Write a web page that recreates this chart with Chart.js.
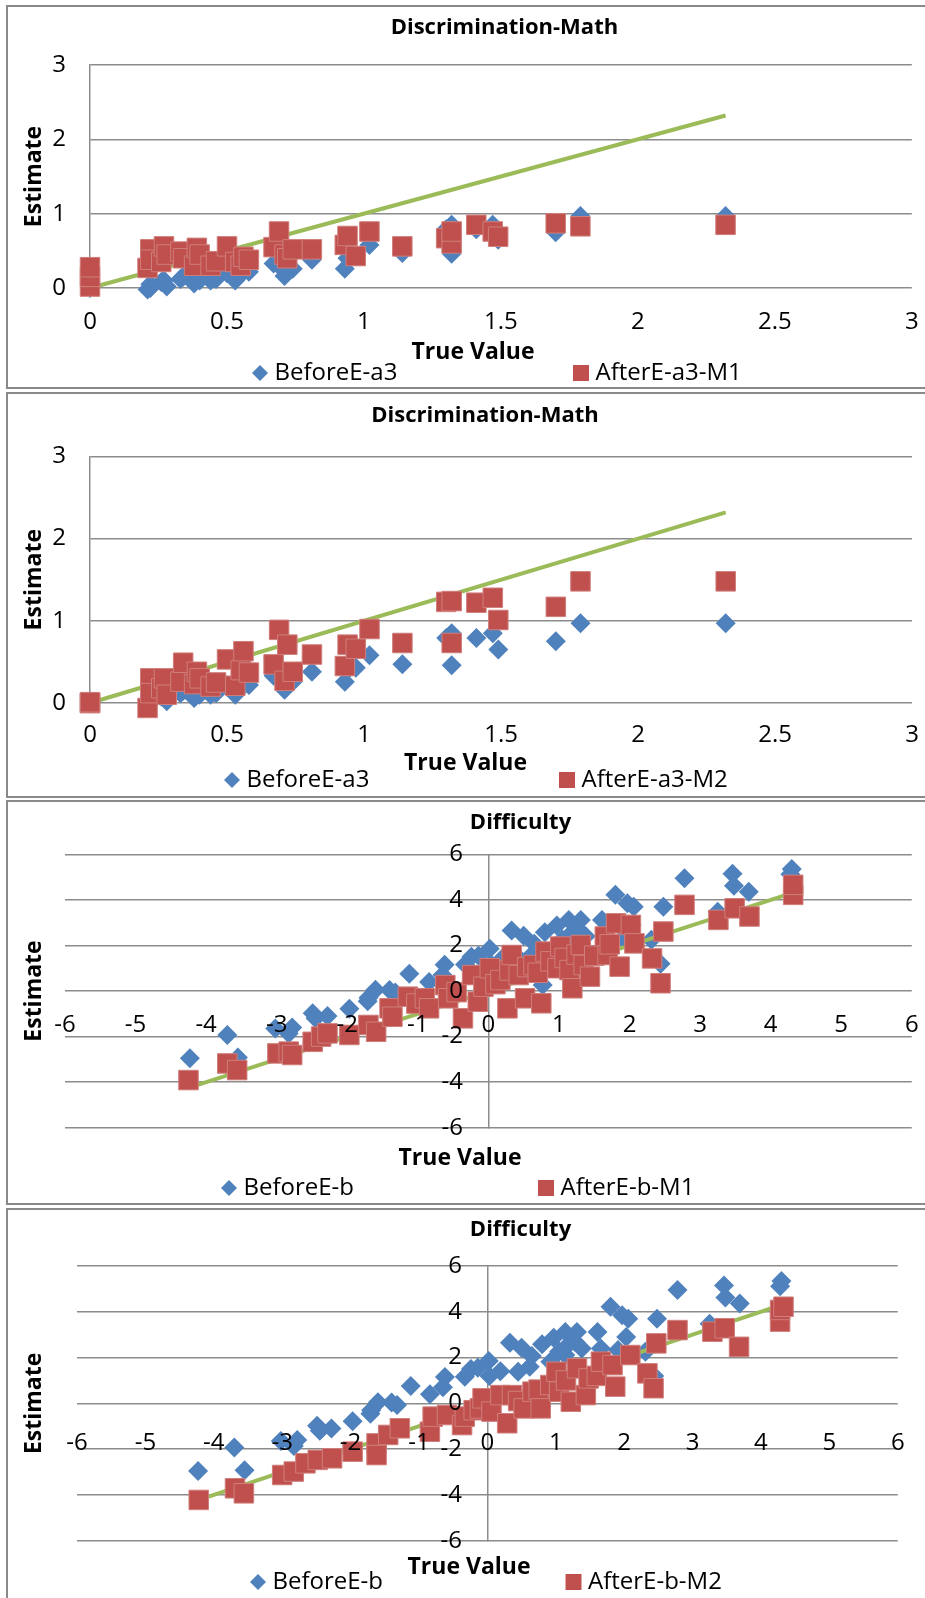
<!DOCTYPE html>
<html>
<head>
<meta charset="utf-8">
<script src="https://cdn.jsdelivr.net/npm/chart.js@4.4.1/dist/chart.umd.min.js"></script>
<style>
  html, body { margin: 0; padding: 0; background: #fff; width: 925px; height: 1598px; overflow: hidden; }
  .panel { position: absolute; left: 6px; width: 925px; border: 2px solid #898989; box-sizing: border-box; }
  .panel canvas { position: absolute; left: 0; top: 0; }
</style>
</head>
<body>
<div class="panel" style="top:5px;height:384px"><canvas id="c1" width="930" height="380"></canvas></div>
<div class="panel" style="top:392px;height:406px"><canvas id="c2" width="929" height="402"></canvas></div>
<div class="panel" style="top:800px;height:405px"><canvas id="c3" width="930" height="401"></canvas></div>
<div class="panel" style="top:1208px;height:420px"><canvas id="c4" width="922" height="400"></canvas></div>
<script>
// discrimination (a3): one true value per item, estimates before / after M1 / after M2
const a3True    = [0.00, 0.00, 0.00, 0.21, 0.22, 0.22, 0.26, 0.27, 0.28, 0.33, 0.34, 0.38, 0.39, 0.40, 0.44, 0.46, 0.50, 0.53, 0.55, 0.56, 0.58, 0.67, 0.69, 0.71, 0.72, 0.74, 0.81, 0.93, 0.94, 0.97, 1.02, 1.14, 1.30, 1.32, 1.32, 1.41, 1.47, 1.49, 1.70, 1.79, 2.32];
const a3Before  = [0.00, 0.01, 0.02, -0.02, 0.00, 0.05, 0.08, 0.10, 0.02, 0.12, 0.15, 0.06, 0.12, 0.10, 0.10, 0.12, 0.20, 0.10, 0.18, 0.25, 0.22, 0.33, 0.30, 0.16, 0.28, 0.26, 0.38, 0.26, 0.40, 0.43, 0.58, 0.47, 0.79, 0.46, 0.85, 0.79, 0.85, 0.65, 0.75, 0.97, 0.97];
const a3AfterM1 = [0.02, 0.15, 0.28, 0.27, 0.52, 0.38, 0.35, 0.56, 0.45, 0.49, 0.40, 0.30, 0.54, 0.45, 0.30, 0.36, 0.56, 0.35, 0.30, 0.42, 0.38, 0.55, 0.76, 0.45, 0.40, 0.52, 0.52, 0.58, 0.70, 0.43, 0.76, 0.56, 0.67, 0.60, 0.76, 0.85, 0.76, 0.69, 0.87, 0.83, 0.85];
const a3AfterM2 = [0.00, 0.00, 0.01, -0.06, 0.30, 0.12, 0.18, 0.30, 0.10, 0.26, 0.49, 0.23, 0.38, 0.30, 0.20, 0.25, 0.53, 0.21, 0.40, 0.63, 0.37, 0.47, 0.89, 0.27, 0.71, 0.38, 0.59, 0.45, 0.71, 0.66, 0.90, 0.73, 1.23, 0.73, 1.24, 1.22, 1.28, 1.01, 1.17, 1.48, 1.48];
const a3Line    = [0, 2.32];

// difficulty (b)
const bBeforeTrue = [-4.23, -3.70, -3.55, -3.02, -2.83, -2.78, -2.49, -2.45, -2.28, -1.97, -1.71, -1.70, -1.60, -1.40, -1.32, -1.12, -0.84, -0.65, -0.62, -0.33, -0.24, -0.14, 0.02, 0.03, 0.19, 0.33, 0.45, 0.50, 0.62, 0.65, 0.77, 0.80, 0.92, 0.97, 1.05, 1.14, 1.14, 1.20, 1.28, 1.31, 1.38, 1.61, 1.66, 1.80, 1.91, 1.97, 2.03, 2.06, 2.31, 2.44, 2.48, 2.78, 3.25, 3.46, 3.48, 3.69, 4.28, 4.30];
const bBeforeEst  = [-2.95, -1.93, -2.92, -1.65, -1.86, -1.60, -0.98, -1.20, -1.10, -0.78, -0.45, -0.30, 0.05, 0.04, -0.07, 0.76, 0.40, 0.70, 1.15, 1.16, 1.50, 1.55, 1.85, 1.20, 1.40, 2.65, 1.38, 2.43, 1.60, 2.07, 0.26, 2.58, 1.82, 2.87, 2.26, 3.12, 2.11, 2.61, 2.69, 3.12, 2.40, 3.12, 2.40, 4.22, 2.33, 3.85, 2.90, 3.70, 2.25, 1.20, 3.70, 4.95, 3.48, 5.15, 4.62, 4.36, 5.12, 5.35];
const bM1True = [-4.25, -3.70, -3.56, -2.99, -2.83, -2.78, -2.49, -2.37, -2.28, -1.97, -1.70, -1.59, -1.40, -1.36, -1.14, -1.02, -0.90, -0.84, -0.61, -0.57, -0.45, -0.36, -0.23, -0.15, -0.07, 0.02, 0.10, 0.17, 0.27, 0.30, 0.33, 0.43, 0.52, 0.55, 0.64, 0.70, 0.75, 0.81, 0.88, 0.98, 1.02, 1.08, 1.15, 1.19, 1.25, 1.31, 1.35, 1.44, 1.50, 1.65, 1.69, 1.72, 1.81, 1.86, 2.02, 2.07, 2.32, 2.44, 2.48, 2.78, 3.26, 3.49, 3.70, 4.32, 4.32];
const bM1Est  = [-3.91, -3.18, -3.47, -2.74, -2.66, -2.81, -2.23, -2.00, -1.86, -1.93, -1.49, -1.79, -0.76, -1.13, -0.25, -0.55, -0.32, -0.76, 0.26, -0.32, -0.05, -1.20, 0.70, -0.47, 0.19, 1.00, 0.30, 0.48, -0.76, 0.90, 1.58, 0.70, -0.32, 1.05, 1.14, 0.80, -0.54, 1.73, 1.30, 1.00, 1.95, 1.45, 0.92, 0.12, 1.60, 2.02, 1.14, 0.63, 1.55, 2.39, 1.58, 2.05, 2.97, 1.07, 2.90, 2.09, 1.43, 0.34, 2.61, 3.78, 3.12, 3.63, 3.27, 4.22, 4.66];
const bM2True = [-4.22, -3.69, -3.56, -3.00, -2.83, -2.66, -2.48, -2.27, -1.97, -1.62, -1.62, -1.45, -1.28, -0.84, -0.80, -0.59, -0.37, -0.33, -0.20, -0.11, -0.07, 0.06, 0.19, 0.29, 0.36, 0.45, 0.53, 0.66, 0.75, 0.78, 0.92, 1.01, 1.05, 1.15, 1.22, 1.31, 1.44, 1.48, 1.60, 1.66, 1.83, 1.87, 2.09, 2.34, 2.43, 2.47, 2.78, 3.29, 3.47, 3.68, 4.28, 4.28, 4.33];
const bM2Est  = [-4.22, -3.71, -3.93, -3.13, -2.98, -2.62, -2.47, -2.40, -2.11, -1.75, -2.26, -1.38, -1.09, -1.24, -0.58, -0.51, -0.95, -0.58, -0.30, -0.22, 0.22, -0.36, 0.36, -0.87, 0.36, 0.10, -0.22, 0.51, 0.60, -0.22, 0.80, 1.38, 0.51, 1.00, 0.07, 1.53, 0.36, 1.09, 1.20, 1.82, 1.67, 0.73, 2.11, 1.31, 0.66, 2.62, 3.20, 3.13, 3.28, 2.47, 3.57, 4.08, 4.22];
const bLine   = [-4.25, 4.30];

const discTicksX = { min: 0, max: 3, step: 0.5 };
const discTicksY = { min: 0, max: 3, step: 1 };
const diffTicksX = { min: -6, max: 6, step: 1 };
const diffTicksY = { min: -6, max: 6, step: 2 };

const BLUE = '#4F81BD';
const RED = '#C0504D';
const GREEN = '#9BBB59';
const GRID = '#8C8C8C';
const FAMILY = '"Open Sans", sans-serif';
const AXIS_TITLE = { family: FAMILY, size: 23, weight: 'bold' };

Chart.defaults.font.family = FAMILY;
Chart.defaults.font.size = 24;
Chart.defaults.color = '#000';
Chart.defaults.animation = false;

const toPoints = (xs, ys) => xs.map((x, i) => ({ x: x, y: ys[i] }));
const identity = (ends) => ends.map(v => ({ x: v, y: v }));
const tickText = (v) => String(Math.round(v * 10) / 10);

// excel style chart title and a legend whose two entries sit far apart on one row
const panelText = {
  id: 'panelText',
  afterDraw(chart, args, opts) {
    const ctx = chart.ctx;
    ctx.save();
    ctx.textBaseline = 'middle';
    ctx.textAlign = 'center';
    ctx.fillStyle = '#000';
    ctx.font = 'bold 22px ' + FAMILY;
    ctx.fillText(opts.title, opts.titleX, opts.titleY);

    ctx.textAlign = 'left';
    ctx.font = '24px ' + FAMILY;
    opts.items.forEach(it => {
      const ds = chart.data.datasets[it.dataset];
      const y = opts.legendY;
      ctx.fillStyle = ds.backgroundColor;
      ctx.beginPath();
      if (ds.pointStyle === 'rectRot') {
        ctx.moveTo(it.x, y - 8);
        ctx.lineTo(it.x + 8, y);
        ctx.lineTo(it.x, y + 8);
        ctx.lineTo(it.x - 8, y);
      } else {
        ctx.rect(it.x - 8, y - 8, 16, 16);
      }
      ctx.closePath();
      ctx.fill();
      ctx.fillStyle = '#000';
      ctx.fillText(ds.label, it.x + 14.5, y);
    });
    ctx.restore();
  }
};

function makePanel(id, p) {
  const centered = p.centered;
  const scales = {
    x: {
      type: 'linear',
      min: p.tx.min, max: p.tx.max,
      position: centered ? { y: 0 } : 'bottom',
      ticks: { stepSize: p.tx.step, padding: p.xPad, z: 1, callback: tickText },
      grid: { display: false, drawTicks: false },
      border: { display: false }
    },
    y: {
      type: 'linear',
      min: p.ty.min, max: p.ty.max,
      position: centered ? { x: 0 } : 'left',
      ticks: { display: !centered, stepSize: p.ty.step, padding: p.yPad, z: 1, callback: tickText },
      grid: { color: GRID, lineWidth: 1.5, drawTicks: false },
      border: { display: true, color: GRID, width: 1.5 },
      title: { display: !centered, text: 'Estimate', font: AXIS_TITLE, padding: p.yTitlePad }
    }
  };
  if (centered) {
    // labels of an axis crossing at x = 0 get no padding, so they sit on their own
    // axis crossing a little left of zero
    scales.yLabels = {
      type: 'linear', axis: 'y',
      min: p.ty.min, max: p.ty.max,
      position: { x: p.labelCross },
      ticks: { stepSize: p.ty.step, z: 1, callback: tickText },
      grid: { display: false, drawTicks: false },
      border: { display: false }
    };
    // empty axis on the left that only carries the "Estimate" title
    scales.yTitle = {
      type: 'linear', axis: 'y', position: 'left',
      ticks: { display: false },
      grid: { display: false, drawTicks: false },
      border: { display: false },
      title: { display: true, text: 'Estimate', font: AXIS_TITLE, padding: p.yTitlePad }
    };
  }

  return new Chart(document.getElementById(id), {
    type: 'scatter',
    data: {
      datasets: [
        {
          label: p.afterLabel,
          data: p.after,
          pointStyle: 'rect',
          pointRadius: 13.8,
          backgroundColor: RED,
          borderColor: '#CF7E7B',
          borderWidth: 1,
          clip: false,
          xAxisID: 'x', yAxisID: 'y'
        },
        {
          label: 'True = Estimate',
          data: p.line,
          showLine: true,
          pointRadius: 0,
          borderColor: GREEN,
          borderWidth: 4,
          clip: false,
          xAxisID: 'x', yAxisID: 'y'
        },
        {
          label: p.beforeLabel,
          data: p.before,
          pointStyle: 'rectRot',
          pointRadius: 10,
          backgroundColor: BLUE,
          borderWidth: 0,
          clip: false,
          xAxisID: 'x', yAxisID: 'y'
        }
      ]
    },
    options: {
      responsive: false,
      events: [],
      layout: { padding: { left: 0, top: p.padTop, right: p.padRight, bottom: p.padBottom } },
      scales: scales,
      plugins: {
        legend: { display: false },
        tooltip: { enabled: false },
        title: { display: false },
        subtitle: { display: true, text: 'True Value', position: 'bottom', font: AXIS_TITLE, padding: p.subPad },
        panelText: {
          title: p.title, titleX: p.titleXY[0], titleY: p.titleXY[1],
          legendY: p.legendY,
          items: [{ dataset: 2, x: p.legendX[0] }, { dataset: 0, x: p.legendX[1] }]
        }
      }
    },
    plugins: [panelText]
  });
}

makePanel('c1', {
  title: 'Discrimination-Math', beforeLabel: 'BeforeE-a3', afterLabel: 'AfterE-a3-M1',
  before: toPoints(a3True, a3Before), after: toPoints(a3True, a3AfterM1), line: identity(a3Line),
  tx: discTicksX, ty: discTicksY, centered: false,
  xPad: 19.3, yPad: 24, yTitlePad: { top: 12.2, bottom: -19.5 },
  subPad: { top: -17.2, bottom: 0 },
  padTop: 58, padRight: 0, padBottom: 21.2,
  titleXY: [496.4, 21], legendY: 366, legendX: [252, 573]
});

makePanel('c2', {
  title: 'Discrimination-Math', beforeLabel: 'BeforeE-a3', afterLabel: 'AfterE-a3-M2',
  before: toPoints(a3True, a3Before), after: toPoints(a3True, a3AfterM2), line: identity(a3Line),
  tx: discTicksX, ty: discTicksY, centered: false,
  xPad: 18.1, yPad: 24, yTitlePad: { top: 12.2, bottom: -19.5 },
  subPad: { top: -18.8, bottom: 0 },
  padTop: 62.4, padRight: 14, padBottom: 19.2,
  titleXY: [477, 21.6], legendY: 386, legendX: [224, 559]
});

makePanel('c3', {
  title: 'Difficulty', beforeLabel: 'BeforeE-b', afterLabel: 'AfterE-b-M1',
  before: toPoints(bBeforeTrue, bBeforeEst), after: toPoints(bM1True, bM1Est), line: identity(bLine),
  tx: diffTicksX, ty: diffTicksY, centered: true, labelCross: -0.36,
  xPad: 19.4, yPad: 0, yTitlePad: { top: 12.2, bottom: 17.2 },
  subPad: { top: 16.5, bottom: 0 },
  padTop: 52.3, padRight: 26, padBottom: 31.2,
  titleXY: [512.5, 21], legendY: 386, legendX: [221, 538]
});

makePanel('c4', {
  title: 'Difficulty', beforeLabel: 'BeforeE-b', afterLabel: 'AfterE-b-M2',
  before: toPoints(bBeforeTrue, bBeforeEst), after: toPoints(bM2True, bM2Est), line: identity(bLine),
  tx: diffTicksX, ty: diffTicksY, centered: true, labelCross: -0.37,
  xPad: 25.4, yPad: 0, yTitlePad: { top: 12.2, bottom: 29.2 },
  subPad: { top: 12.5, bottom: 0 },
  padTop: 56, padRight: 0, padBottom: 29.2,
  titleXY: [512.5, 19.6], legendY: 372, legendX: [250, 565.5]
});
</script>
</body>
</html>
